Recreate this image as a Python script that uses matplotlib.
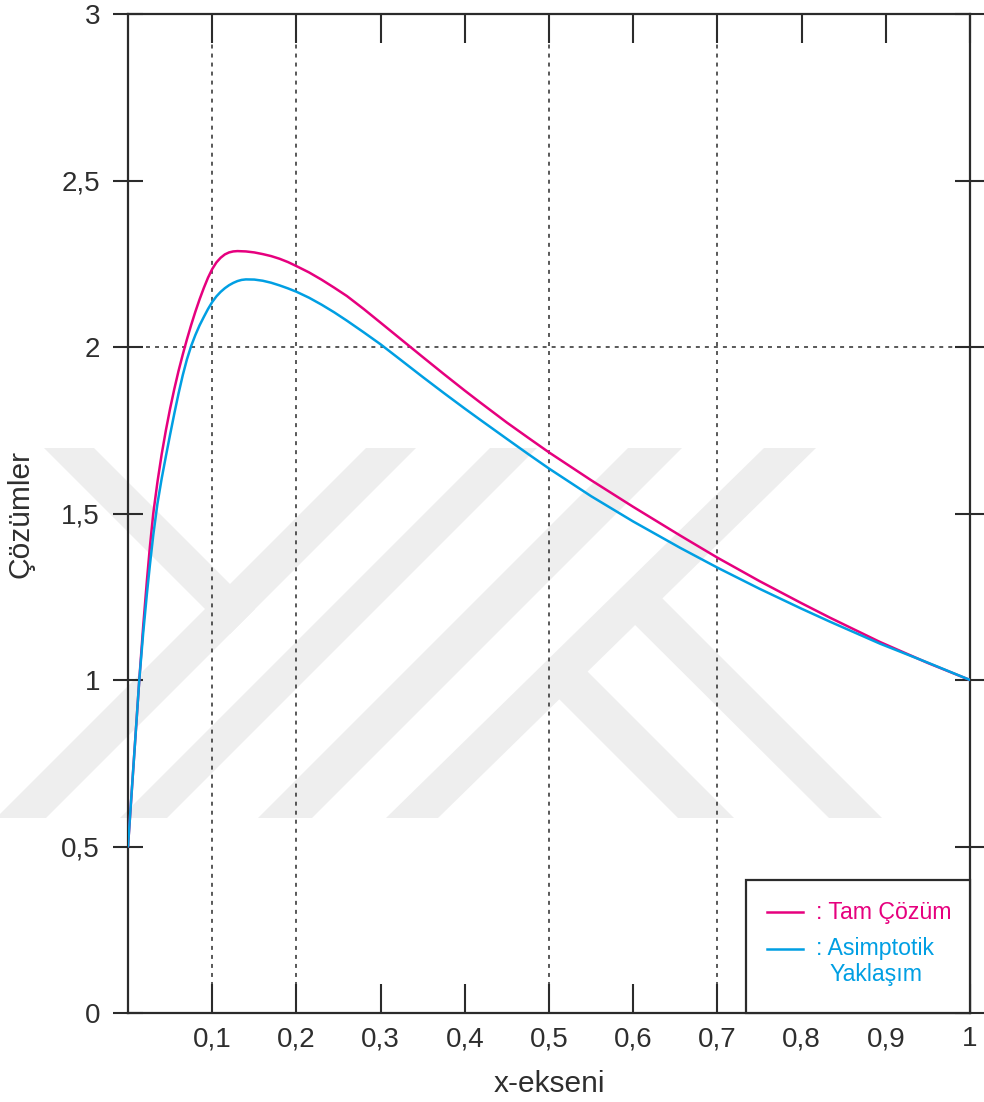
import matplotlib
matplotlib.use("Agg")
import matplotlib.pyplot as plt
from matplotlib.patches import Polygon, Rectangle
from matplotlib.lines import Line2D

# ---------------- data ----------------
x_exact = [0, 0.0067, 0.0134, 0.018, 0.0225, 0.026, 0.030, 0.035, 0.040, 0.045,
           0.050, 0.055, 0.060, 0.065, 0.070, 0.075, 0.080, 0.085, 0.090, 0.095,
           0.100, 0.105, 0.110, 0.115, 0.120, 0.125, 0.130, 0.140, 0.150, 0.160,
           0.170, 0.180, 0.190, 0.200, 0.215, 0.230, 0.245, 0.260, 0.280, 0.300,
           0.3165, 0.333, 0.350, 0.375, 0.400, 0.418, 0.450, 0.475, 0.500, 0.550,
           0.600, 0.6557, 0.6996, 0.750, 0.800, 0.8338, 0.8932, 0.950, 1.000]
y_exact = [0.50, 0.75, 1.00, 1.16, 1.30, 1.40, 1.50, 1.595, 1.678, 1.75,
           1.815, 1.874, 1.928, 1.977, 2.023, 2.066, 2.106, 2.143, 2.177, 2.208,
           2.234, 2.254, 2.268, 2.278, 2.284, 2.287, 2.288, 2.287, 2.284, 2.279,
           2.273, 2.265, 2.255, 2.243, 2.224, 2.202, 2.178, 2.153, 2.114, 2.073,
           2.039, 2.005, 1.970, 1.919, 1.869, 1.834, 1.773, 1.728, 1.6835, 1.600,
           1.520, 1.434, 1.368, 1.297, 1.2305, 1.187, 1.114, 1.051, 1.00]

x_asym = [0, 0.0067, 0.0134, 0.018, 0.0225, 0.026, 0.030, 0.035, 0.040, 0.045,
          0.050, 0.055, 0.060, 0.065, 0.070, 0.075, 0.080, 0.085, 0.090, 0.095,
          0.100, 0.105, 0.110, 0.115, 0.120, 0.125, 0.130, 0.135, 0.140, 0.150,
          0.160, 0.170, 0.180, 0.190, 0.200, 0.215, 0.230, 0.245, 0.260, 0.280,
          0.300, 0.323, 0.350, 0.375, 0.400, 0.418, 0.450, 0.475, 0.500, 0.550,
          0.600, 0.6557, 0.6996, 0.750, 0.800, 0.8338, 0.8932, 0.950, 1.000]
y_asym = [0.50, 0.75, 1.00, 1.14, 1.26, 1.345, 1.435, 1.53, 1.605, 1.672,
          1.737, 1.80, 1.86, 1.915, 1.963, 2.003, 2.036, 2.065, 2.09, 2.114,
          2.135, 2.152, 2.1655, 2.1765, 2.1855, 2.1925, 2.198, 2.2015, 2.203, 2.2025,
          2.199, 2.193, 2.185, 2.176, 2.166, 2.148, 2.127, 2.104, 2.079, 2.044,
          2.008, 1.963, 1.910, 1.862, 1.815, 1.782, 1.724, 1.679, 1.635, 1.552,
          1.476, 1.397, 1.338, 1.274, 1.214, 1.175, 1.109, 1.052, 1.00]

x_ticks = [0.1, 0.2, 0.3, 0.4, 0.5, 0.6, 0.7, 0.8, 0.9, 1.0]
x_tick_labels = ["0,1", "0,2", "0,3", "0,4", "0,5", "0,6", "0,7", "0,8", "0,9", "1"]
y_ticks = [0, 0.5, 1, 1.5, 2, 2.5, 3]
y_tick_labels = ["0", "0,5", "1", "1,5", "2", "2,5", "3"]
x_grid = [0.1, 0.2, 0.5, 0.7]
y_grid = [2]

label_exact = ": Tam Çözüm"
label_asym_1 = ": Asimptotik"
label_asym_2 = "Yaklaşım"
xlabel = "x-ekseni"
ylabel = "Çözümler"

# ---------------- style ----------------
plt.rcParams['font.family'] = ['Liberation Sans', 'DejaVu Sans']
DARK = '#2b2b2b'
TXT = '#2e2e2e'
MAGENTA = '#E6007E'
CYAN = '#009FE3'
WM = '#eeeeee'

W, H = 984, 1102
fig = plt.figure(figsize=(W / 100, H / 100), dpi=100)
fig.patch.set_facecolor('white')

# ---- watermark (decorative background bands) ----
def px(pts):
    return [(x / W, 1 - y / H) for x, y in pts]

bands = [
    [(44, 448), (94, 448), (255, 609), (230, 634)],
    [(366, 448), (416, 448), (46, 818), (-4, 818)],
    [(490, 448), (537, 448), (167, 818), (120, 818)],
    [(628, 448), (682, 448), (312, 818), (258, 818)],
    [(764, 448), (816, 448), (438, 818), (386, 818)],
    [(535, 675), (563, 647), (734, 818), (678, 818)],
    [(610, 600), (637, 573), (882, 818), (829, 818)],
]
for b in bands:
    fig.add_artist(Polygon(px(b), closed=True, facecolor=WM, edgecolor='none',
                           transform=fig.transFigure, zorder=0))

left, right, top, bottom = 128, 970, 14, 1013
ax = fig.add_axes([left / W, 1 - bottom / H, (right - left) / W, (bottom - top) / H])
ax.set_facecolor('none')
ax.set_zorder(1)

ax.set_xlim(0, 1)
ax.set_ylim(0, 3)

for s in ax.spines.values():
    s.set_color(DARK)
    s.set_linewidth(1.6)

ax.set_xticks(x_ticks)
ax.set_xticklabels(x_tick_labels)
ax.set_yticks(y_ticks)
ax.set_yticklabels(y_tick_labels)
ax.tick_params(axis='x', direction='in', length=21, width=1.5, top=True, bottom=True,
               labelsize=20, pad=9.5, colors=DARK, labelcolor=TXT)
ax.tick_params(axis='y', direction='inout', length=21, width=1.5, left=True, right=True,
               labelsize=20, pad=9.6, colors=DARK, labelcolor=TXT)

for gx in x_grid:
    ax.axvline(gx, color=DARK, lw=1.1, linestyle=(0, (2.6, 3.3)), zorder=1)
for gy in y_grid:
    ax.axhline(gy, color=DARK, lw=1.1, linestyle=(0, (2.6, 3.3)), zorder=1)

ax.plot(x_exact, y_exact, color=MAGENTA, lw=1.8, zorder=3,
        solid_capstyle='round', solid_joinstyle='round')
ax.plot(x_asym, y_asym, color=CYAN, lw=1.8, zorder=3,
        solid_capstyle='round', solid_joinstyle='round')

ax.set_xlabel(xlabel, fontsize=21.5, color=TXT)
ax.xaxis.set_label_coords(0.5, -0.057)
ax.set_ylabel(ylabel, fontsize=21.5, color=TXT)
ax.yaxis.set_label_coords(-0.111, 0.5)

# ---- legend box ----
bx0 = (746 - left) / (right - left)
by1 = (bottom - 880) / (bottom - top)
ax.add_patch(Rectangle((bx0, 0), 1 - bx0, by1, transform=ax.transAxes,
                       facecolor='white', edgecolor=DARK, lw=1.6, zorder=4, clip_on=False))
lx0 = (767 - left) / (right - left)
lx1 = (803 - left) / (right - left)
ly1 = (bottom - 912) / (bottom - top)
ly2 = (bottom - 949) / (bottom - top)
ly3 = (bottom - 975) / (bottom - top)
tx = (816 - left) / (right - left)
tx2 = (829 - left) / (right - left)
ax.add_line(Line2D([lx0, lx1], [ly1, ly1], color=MAGENTA, lw=1.8, transform=ax.transAxes, zorder=5))
ax.add_line(Line2D([lx0, lx1], [ly2, ly2], color=CYAN, lw=1.8, transform=ax.transAxes, zorder=5))
ax.text(tx, ly1, label_exact, color=MAGENTA, fontsize=16.7, va='center', ha='left',
        transform=ax.transAxes, zorder=5)
ax.text(tx, ly2, label_asym_1, color=CYAN, fontsize=16.7, va='center', ha='left',
        transform=ax.transAxes, zorder=5)
ax.text(tx2, ly3, label_asym_2, color=CYAN, fontsize=16.7, va='center', ha='left',
        transform=ax.transAxes, zorder=5)

fig.savefig("out.png", dpi=100)
